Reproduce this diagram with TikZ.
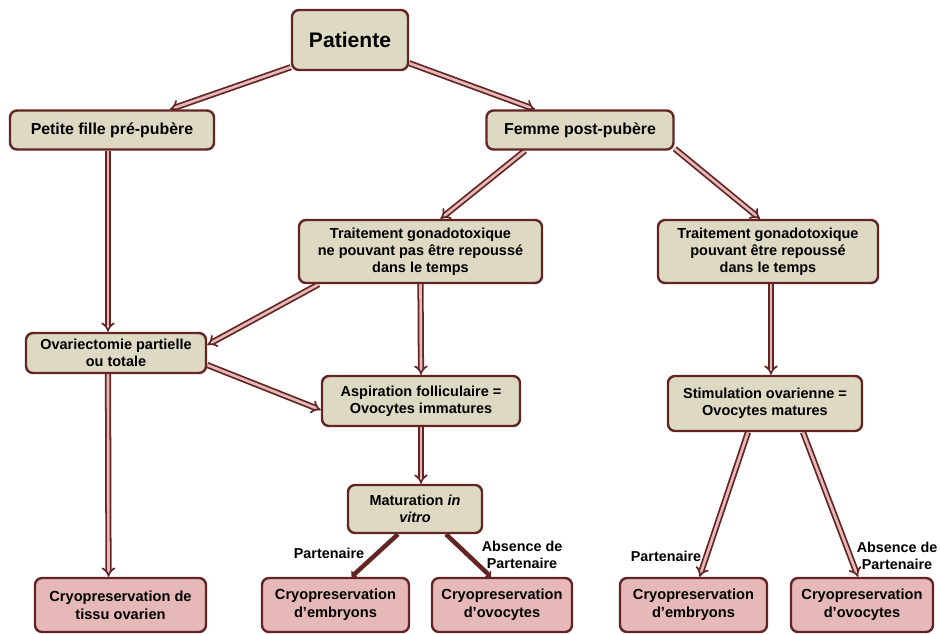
\documentclass[tikz,border=0pt]{standalone}
\usepackage{fontspec}
\setmainfont{Liberation Sans}
\usetikzlibrary{calc,arrows.meta,backgrounds}

\definecolor{boxfill}{HTML}{DDD9C3}
\definecolor{boxline}{HTML}{632523}
\definecolor{leaffill}{HTML}{E6B9B8}

\begin{document}
\begin{tikzpicture}[x=0.025cm, y=-0.025cm, line cap=round, line join=round,
  box/.style={draw=boxline, line width=1.7pt, rounded corners=5pt, fill=boxfill,
    align=center, inner sep=0pt, font=\bfseries\fontsize{10.3}{12}\selectfont},
  leaf/.style={box, fill=leaffill, font=\bfseries\fontsize{10.4}{12.8}\selectfont},
  link/.style={draw=boxline, line width=1.25pt, double=leaffill,
    double distance=1.9pt, -{Implies}},
  solidlink/.style={draw=boxline, line width=3.2pt, line cap=butt,
    -{Triangle[length=3pt,width=6.5pt]}},
  lbl/.style={font=\bfseries\fontsize{10.2}{12}\selectfont, align=center, inner sep=0pt}]
  \useasboundingbox (0,0) rectangle (940,633);

  % Top of the tree
  \node[box, minimum width=2.9cm, minimum height=1.5cm,
        font=\bfseries\fontsize{15}{18}\selectfont] (patiente) at (350,40) {Patiente};
  \node[box, minimum width=5.1cm, minimum height=0.975cm,
        font=\bfseries\fontsize{11.3}{13}\selectfont] (petite) at (112,130) {Petite fille pré-pubère};
  \node[box, minimum width=4.675cm, minimum height=0.975cm,
        font=\bfseries\fontsize{11.3}{13}\selectfont] (femme) at (580,130) {Femme post-pubère};

  % Treatments
  \node[box, minimum width=6.075cm, minimum height=1.575cm] (urgent) at (420.5,251.5)
    {Traitement gonadotoxique\\ne pouvant pas être repoussé\\dans le temps};
  \node[box, minimum width=5.5cm, minimum height=1.575cm] (delay) at (768,251.5)
    {Traitement gonadotoxique\\pouvant être repoussé\\dans le temps};

  % Procedures
  \node[box, minimum width=4.5cm, minimum height=1cm] (ovar) at (116,353)
    {Ovariectomie partielle\\ou totale};
  \node[box, minimum width=4.95cm, minimum height=1.25cm] (aspir) at (421,401)
    {Aspiration folliculaire =\\Ovocytes immatures};
  \node[box, minimum width=4.85cm, minimum height=1.375cm] (stim) at (765,403.5)
    {Stimulation ovarienne =\\Ovocytes matures};
  \node[box, minimum width=3.35cm, minimum height=1.2cm] (matur) at (415,509)
    {Maturation \textit{in}\\\textit{vitro}};

  % Cryopreservation
  \node[leaf, minimum width=4.275cm, minimum height=1.35cm] (cryoT) at (120.5,605)
    {Cryopreservation de\\tissu ovarien};
  \node[leaf, minimum width=3.675cm, minimum height=1.35cm] (cryoEa) at (335.5,605)
    {Cryopreservation\\d’embryons};
  \node[leaf, minimum width=3.5cm, minimum height=1.35cm] (cryoOa) at (502,605)
    {Cryopreservation\\d’ovocytes};
  \node[leaf, minimum width=3.675cm, minimum height=1.35cm] (cryoEb) at (693.5,605)
    {Cryopreservation\\d’embryons};
  \node[leaf, minimum width=3.55cm, minimum height=1.35cm] (cryoOb) at (862,605)
    {Cryopreservation\\d’ovocytes};

  % Labels
  \node[lbl] (partA) at (329,553) {Partenaire};
  \node[lbl] (absA) at (522,555) {Absence de\\Partenaire};
  \node[lbl] (partB) at (666,556) {Partenaire};
  \node[lbl] (absB) at (897,556) {Absence de\\Partenaire};

  \begin{scope}[on background layer]
    \draw[link] ($(patiente.south west)+(0,-4)$) -- ($(petite.north)+(58,0)$);
    \draw[link] ($(patiente.south east)+(0,-8)$) -- ($(femme.north)+(-45,0)$);
    \draw[link] ($(petite.south)+(-4,0)$) -- ($(ovar.north)+(-8,0)$);
    \draw[link] ($(femme.south)+(-55,0)$) -- ($(urgent.north)+(20,0)$);
    \draw[link] ($(femme.south east)+(0,-2)$) -- ($(delay.north)+(-8,0)$);
    \draw[link] ($(urgent.south west)+(21,0)$) -- ($(ovar.east)+(0,-8)$);
    \draw[link] ($(ovar.east)+(0,12)$) -- ($(aspir.west)+(0,9)$);
    \draw[link] (urgent.south) -- (aspir.north);
    \draw[link] ($(delay.south)+(3,0)$) -- ($(stim.north)+(6,0)$);
    \draw[link] (aspir.south) -- ($(matur.north)+(6,0)$);
    \draw[link] ($(ovar.south)+(-8,0)$) -- ($(cryoT.north)+(-12,0)$);
    \draw[link] ($(stim.south)+(-17,0)$) -- ($(cryoEb.north)+(6,0)$);
    \draw[link] ($(stim.south)+(38,0)$) -- ($(cryoOb.north)+(-4,0)$);
    \draw[solidlink] ($(matur.south)+(-17,0)$) -- ($(cryoEa.north)+(16,0)$);
    \draw[solidlink] ($(matur.south)+(31,0)$) -- ($(cryoOa.north)+(-11,0)$);
  \end{scope}
\end{tikzpicture}
\end{document}
